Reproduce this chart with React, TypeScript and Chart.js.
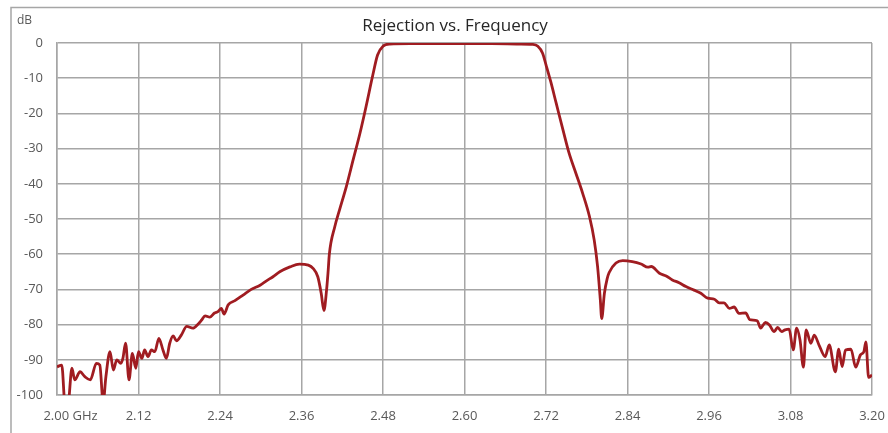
import React, { useEffect, useRef } from "react";
import { Chart, registerables } from "chart.js";

Chart.register(...registerables);

const chartTitle = "Rejection vs. Frequency";
const yUnitLabel = "dB";

const freqGHz = [
  2.0, 2.007, 2.012, 2.016, 2.022, 2.026, 2.034, 2.041, 2.049, 2.058, 2.063, 2.068, 2.072, 2.078,
  2.083, 2.088, 2.094, 2.097, 2.101, 2.106, 2.111, 2.116, 2.12, 2.125, 2.129, 2.134, 2.139, 2.144,
  2.15, 2.156, 2.161, 2.166, 2.171, 2.176, 2.183, 2.191, 2.2, 2.208, 2.213, 2.218, 2.225, 2.232,
  2.237, 2.242, 2.246, 2.252, 2.262, 2.274, 2.286, 2.299, 2.309, 2.318, 2.328, 2.343, 2.357, 2.37,
  2.377, 2.384, 2.389, 2.393, 2.397, 2.399, 2.401, 2.409, 2.416, 2.426, 2.436, 2.446, 2.455, 2.465,
  2.472, 2.48, 2.49, 2.52, 2.56, 2.6, 2.64, 2.68, 2.7, 2.708, 2.715, 2.72, 2.727, 2.735, 2.745,
  2.754, 2.764, 2.774, 2.784, 2.791, 2.796, 2.8, 2.802, 2.806, 2.81, 2.813, 2.823, 2.833, 2.847,
  2.86, 2.87, 2.875, 2.887, 2.897, 2.906, 2.916, 2.926, 2.938, 2.948, 2.958, 2.968, 2.975, 2.982,
  2.99, 2.997, 3.004, 3.014, 3.02, 3.031, 3.036, 3.043, 3.049, 3.056, 3.061, 3.067, 3.072, 3.078,
  3.084, 3.089, 3.094, 3.099, 3.103, 3.11, 3.115, 3.122, 3.131, 3.137, 3.146, 3.151, 3.156, 3.161,
  3.169, 3.176, 3.183, 3.188, 3.191, 3.195, 3.2,
];

const rejectionDb = [
  -92.0, -91.5, -103, -103, -92.4, -95.7, -93.4, -94.8, -95.7, -91.0, -91.5, -102, -94.8, -87.7,
  -92.9, -90.0, -91.0, -89.6, -85.3, -95.7, -88.2, -92.4, -87.7, -89.6, -87.2, -89.1, -87.2, -87.7,
  -83.9, -87.2, -89.6, -85.3, -83.2, -84.6, -83.0, -80.5, -81.0, -79.8, -78.7, -77.5, -77.9, -76.7,
  -76.3, -75.4, -77.0, -74.4, -73.2, -71.6, -70.0, -68.8, -67.5, -66.4, -65.0, -63.6, -62.8, -63.1,
  -64.0, -66.4, -71.1, -76.0, -70.0, -65.4, -60.0, -52.2, -47.4, -40.8, -33.2, -25.7, -18.1, -9.1,
  -3.4, -0.9, -0.3, -0.2, -0.2, -0.2, -0.2, -0.3, -0.4, -0.9, -2.9, -6.2, -11.0, -17.1, -24.7,
  -31.3, -37.0, -42.7, -49.3, -56.0, -63.6, -73.0, -78.3, -71.1, -67.0, -65.2, -62.5, -61.8, -62.1,
  -62.8, -63.7, -63.5, -65.4, -66.2, -67.3, -68.1, -69.2, -70.2, -71.1, -72.5, -72.8, -73.8, -73.8,
  -75.4, -75.0, -76.8, -76.7, -78.6, -78.9, -81.0, -79.4, -80.1, -82.0, -80.8, -82.0, -81.5, -81.3,
  -87.2, -81.0, -84.4, -92.1, -81.5, -85.3, -83.0, -85.8, -89.1, -85.8, -93.4, -87.0, -91.9, -87.2,
  -87.0, -92.1, -88.6, -87.7, -84.9, -95.0, -94.3,
];

const xTickValues = [2.0, 2.12, 2.24, 2.36, 2.48, 2.6, 2.72, 2.84, 2.96, 3.08, 3.2];
const xUnit = "GHz";

const FONT = "'Open Sans', 'DejaVu Sans', sans-serif";
const GRID = "#a6a6a6";
const TEXT = "#595959";

const decorPlugin = {
  id: "decor",
  beforeDraw(chart: any) {
    const ctx = chart.ctx;
    ctx.save();
    ctx.strokeStyle = GRID;
    ctx.lineWidth = 1.5;
    ctx.strokeRect(11, 7.5, 950, 600);
    ctx.restore();
  },
  afterDraw(chart: any) {
    const ctx = chart.ctx;
    ctx.save();
    ctx.fillStyle = "#262626";
    ctx.font = `17px ${FONT}`;
    ctx.textAlign = "center";
    ctx.textBaseline = "middle";
    ctx.fillText(chartTitle, 455, 26);
    ctx.fillStyle = TEXT;
    ctx.font = `12px ${FONT}`;
    ctx.textAlign = "left";
    ctx.fillText(yUnitLabel, 17, 21);
    ctx.restore();
  },
};

export default function App() {
  const ref = useRef<HTMLCanvasElement>(null);
  useEffect(() => {
    if (!ref.current) return;
    const chart = new Chart(ref.current, {
      type: "line",
      data: {
        datasets: [
          {
            data: freqGHz.map((f, i) => ({ x: f, y: rejectionDb[i] })),
            borderColor: "#a01c21",
            borderWidth: 2.8,
            pointRadius: 0,
            cubicInterpolationMode: "monotone",
            fill: false,
          },
        ],
      },
      options: {
        responsive: false,
        animation: false,
        devicePixelRatio: 1,
        layout: { padding: { left: 0, right: 16, top: 43, bottom: 0 } },
        plugins: { legend: { display: false }, title: { display: false }, tooltip: { enabled: false } },
        scales: {
          x: {
            type: "linear",
            min: 2.0,
            max: 3.2,
            afterBuildTicks: (scale: any) => {
              scale.ticks = xTickValues.map((v) => ({ value: v }));
            },
            afterFit: (scale: any) => {
              scale.height = 38;
              scale.paddingLeft = 0;
              scale.paddingRight = 0;
            },
            grid: { color: GRID, lineWidth: 1.5, drawTicks: false },
            border: { color: GRID, width: 1.5 },
            ticks: {
              color: TEXT,
              font: { family: FONT, size: 13 },
              padding: 13,
              maxRotation: 0,
              autoSkip: false,
              callback: (v: any) =>
                Math.abs(v - xTickValues[0]) < 1e-9
                  ? "        " + Number(v).toFixed(2) + " " + xUnit
                  : Number(v).toFixed(2),
            },
          },
          y: {
            min: -100,
            max: 0,
            afterFit: (scale: any) => {
              scale.width = 57;
              scale.paddingTop = 0;
              scale.paddingBottom = 0;
            },
            grid: { color: GRID, lineWidth: 1.5, drawTicks: false },
            border: { color: GRID, width: 1.5 },
            ticks: {
              stepSize: 10,
              color: TEXT,
              font: { family: FONT, size: 13 },
              padding: 14,
            },
          },
        },
      },
      plugins: [decorPlugin],
    } as any);
    return () => chart.destroy();
  }, []);
  return (
    <div style={{ position: "absolute", left: 0, top: 0, width: 888, height: 433, background: "#fff" }}>
      <canvas ref={ref} width={888} height={433} style={{ width: 888, height: 433, display: "block" }} />
    </div>
  );
}
